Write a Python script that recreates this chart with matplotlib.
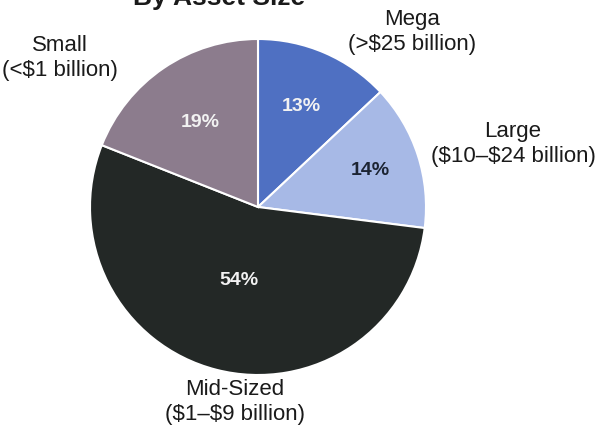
import numpy as np
import matplotlib.pyplot as plt

plt.rcParams["font.family"] = ["Liberation Sans", "DejaVu Sans"]

# asset size breakdown
kategori = ["Mega", "Large", "Mid-Sized", "Small"]
rentang = [r"(>\$25 billion)", "(\\$10\u2013\\$24 billion)", "(\\$1\u2013\\$9 billion)", r"(<\$1 billion)"]
persen = [13, 14, 54, 19]
warna = ["#4f70c2", "#a7b9e6", "#232826", "#8c7c8d"]
warna_teks = ["#f2f2f2", "#1c2433", "#f2f2f2", "#f2f2f2"]
jarak_pct = [0.65, 0.70, 0.45, 0.61]

# posisi label kategori (koordinat piksel, y dari bawah)
posisi_label = [(412, 398), (513, 286), (235, 28), (60, 372)]

fig = plt.figure(figsize=(5.99, 4.30), dpi=100)
ax = fig.add_axes([0, 0, 1, 1])
ax.axis("off")

cx, cy, r = 258, 223, 168
wedges, _ = ax.pie(persen, colors=warna, startangle=90, counterclock=False,
                   center=(cx, cy), radius=r,
                   wedgeprops=dict(edgecolor="white", linewidth=1.5))
ax.set_xlim(0, 599)
ax.set_ylim(0, 430)
ax.set_aspect("equal")

for w, p, c, d in zip(wedges, persen, warna_teks, jarak_pct):
    sudut = np.deg2rad((w.theta1 + w.theta2) / 2)
    ax.text(cx + d * r * np.cos(sudut), cy + d * r * np.sin(sudut), f"{p}%",
            ha="center", va="center", fontsize=14, fontweight="bold", color=c)

for nama, rg, (x, y) in zip(kategori, rentang, posisi_label):
    ax.text(x, y, nama + "\n" + rg, ha="center", va="center", fontsize=16,
            color="#1a1a1a", linespacing=1.3)

# judul, sebagian besar terpotong di tepi atas
ax.text(219, 425, "By Asset Size", ha="center", va="baseline", fontsize=19,
        fontweight="bold", color="#1a1a1a")

fig.savefig("out.png", dpi=100)
